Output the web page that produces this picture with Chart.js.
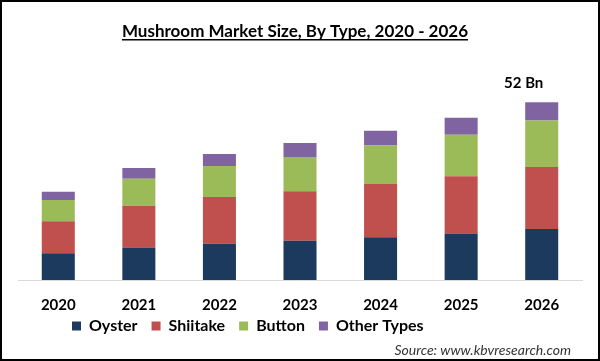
<!DOCTYPE html>
<html>
<head>
<meta charset="utf-8">
<script src="https://cdn.jsdelivr.net/npm/chart.js@4.4.0/dist/chart.umd.min.js"></script>
<style>
html,body{margin:0;padding:0;background:#fff;}
#wrap{width:600px;height:361px;position:relative;}
</style>
</head>
<body>
<div id="wrap"><canvas id="c" width="600" height="361"></canvas></div>
<script>
const years = ["2020","2021","2022","2023","2024","2025","2026"];
const oyster = [7.8, 9.5, 10.6, 11.5, 12.5, 13.6, 14.9];
const shiitake = [9.4, 12.2, 13.7, 14.5, 15.6, 16.8, 18.2];
const button = [6.2, 7.9, 9.1, 10.0, 11.3, 12.1, 13.6];
const otherTypes = [2.4, 3.2, 3.5, 4.1, 4.3, 5.0, 5.3];
const titleText = "Mushroom Market Size, By Type, 2020 - 2026";
const totalLabel = "52 Bn";
const sourceText = "Source: www.kbvresearch.com";

const FONT = "Lato, 'Open Sans', sans-serif";

const decor = {
  id: 'decor',
  beforeDraw(chart) {
    const ctx = chart.ctx;
    ctx.save();
    ctx.fillStyle = '#fff';
    ctx.fillRect(0, 0, chart.width, chart.height);
    ctx.restore();
  },
  afterLayout(chart) {
    const lg = chart.legend;
    if (lg) {
      const h = lg.bottom - lg.top;
      lg.left = 58; lg.right = 600;
      lg.top = 304; lg.bottom = 304 + h;
    }
  },
  afterDraw(chart) {
    const ctx = chart.ctx;
    ctx.save();
    // title
    ctx.font = "bold 17px " + FONT;
    ctx.fillStyle = '#000';
    ctx.textAlign = 'center';
    ctx.textBaseline = 'alphabetic';
    const tx = 295, ty = 37;
    ctx.fillText(titleText, tx, ty);
    const w = ctx.measureText(titleText).width;
    ctx.fillRect(tx - w / 2, ty + 2, w, 1.5);
    // total label
    const meta = chart.getDatasetMeta(3);
    const bar = meta.data[meta.data.length - 1];
    ctx.font = "bold 15px " + FONT;
    ctx.textBaseline = 'middle';
    ctx.fillText(totalLabel, bar.x - 18, bar.y - 19);
    // source
    ctx.font = "italic 14px " + FONT;
    ctx.fillStyle = '#333';
    ctx.textAlign = 'right';
    ctx.fillText(sourceText, 571, 350);
    // border
    ctx.strokeStyle = '#000';
    ctx.lineWidth = 2;
    ctx.strokeRect(1, 1, chart.width - 2, chart.height - 2);
    ctx.restore();
  }
};

new Chart(document.getElementById('c'), {
  type: 'bar',
  data: {
    labels: years,
    datasets: [
      { label: 'Oyster', data: oyster, backgroundColor: '#1B3A5E' },
      { label: 'Shiitake', data: shiitake, backgroundColor: '#C0504D' },
      { label: 'Button', data: button, backgroundColor: '#9BBB59' },
      { label: 'Other Types', data: otherTypes, backgroundColor: '#8064A2' }
    ]
  },
  options: {
    responsive: false,
    animation: false,
    devicePixelRatio: 1,
    layout: { padding: { left: 18, right: 18, top: 75, bottom: 7 } },
    datasets: { bar: { barPercentage: 0.82, categoryPercentage: 0.5 } },
    scales: {
      x: {
        stacked: true,
        grid: { display: false },
        border: { display: true, color: '#d9d9d9', width: 1 },
        ticks: { color: '#000', font: { family: FONT, size: 15, weight: 'bold' }, padding: 8 },
        afterFit(s) { s.height = 34; }
      },
      y: {
        stacked: true,
        display: false,
        min: 0,
        max: 60
      }
    },
    plugins: {
      legend: {
        position: 'bottom',
        align: 'start',
        labels: {
          color: '#000',
          boxWidth: 9,
          boxHeight: 9,
          padding: 14,
          font: { family: FONT, size: 16, weight: 'bold' }
        }
      },
      tooltip: { enabled: false },
      title: { display: false }
    }
  },
  plugins: [decor]
});
</script>
</body>
</html>
